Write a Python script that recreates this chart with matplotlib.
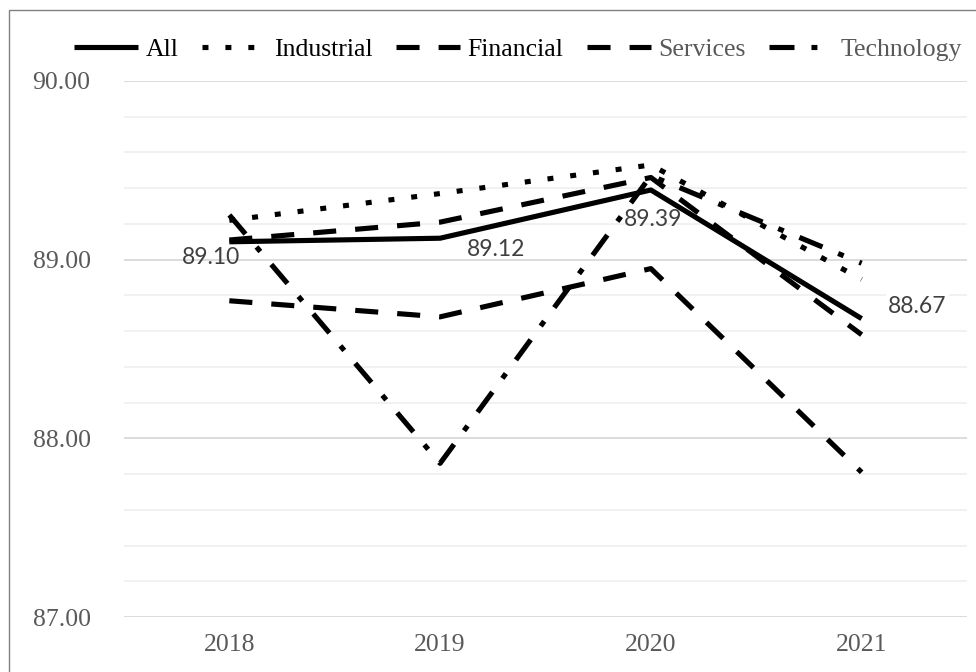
import matplotlib
matplotlib.use("Agg")
import matplotlib.pyplot as plt
import numpy as np
from matplotlib.patches import Rectangle

years = ["2018", "2019", "2020", "2021"]

all_sectors = [89.10, 89.12, 89.39, 88.67]
industrial = [89.22, 89.37, 89.53, 88.89]
financial = [88.77, 88.68, 88.95, 87.81]
services = [89.11, 89.21, 89.46, 88.58]
technology = [89.25, 87.86, 89.47, 88.98]

series_names = ["All", "Industrial", "Financial", "Services", "Technology"]
series_values = [all_sectors, industrial, financial, services, technology]

# dash patterns in points (not scaled by line width)
line_styles = {
    "All": dict(linestyle="-"),
    "Industrial": dict(dashes=(4.3, 12.2)),
    "Financial": dict(dashes=(16.6, 13.7)),
    "Services": dict(dashes=(16.6, 13.7)),
    "Technology": dict(dashes=(18.0, 12.2, 4.3, 12.2)),
}
legend_colors = ["black", "black", "black", "#595959", "#595959"]

# offsets (points) of the value labels on the "All" line
label_offsets = [(-13, -11.5), (40, -8), (1.5, -21), (40, 8.5)]

plt.rcParams["lines.scale_dashes"] = False
serif = "Liberation Serif"

fig = plt.figure(figsize=(9.76, 6.72), dpi=100)
ax = fig.add_axes([0.127, 0.0818, 0.8638, 0.7977])

x = np.arange(len(years))
for name, values in zip(series_names, series_values):
    ax.plot(x, values, color="black", linewidth=3.7, solid_capstyle="butt",
            dash_capstyle="butt", label=name, **line_styles[name])

for xi, val, off in zip(x, all_sectors, label_offsets):
    bbox = dict(boxstyle="square,pad=0.1", fc="white", ec="none") if xi == 3 else None
    ax.annotate(f"{val:.2f}", (xi, val), xytext=off, textcoords="offset points",
                ha="center", va="center", fontsize=16.5, family="Lato",
                color="#404040", bbox=bbox, zorder=5)

ax.set_xlim(-0.5, 3.5)
ax.set_ylim(87, 90)
ax.set_xticks(x)
ax.set_xticklabels(years, family=serif, fontsize=18.5, color="#595959")
ax.set_yticks([87, 88, 89, 90])
ax.set_yticklabels([f"{v:.2f}" for v in [87, 88, 89, 90]],
                   family=serif, fontsize=18.5, color="#595959")
ax.set_yticks(np.arange(87, 90.01, 0.2), minor=True)
ax.tick_params(axis="y", which="both", length=0, pad=24)
ax.tick_params(axis="x", length=0, pad=12)
ax.grid(True, axis="y", which="major", color="#d9d9d9", linewidth=1.3)
ax.grid(True, axis="y", which="minor", color="#f0f0f0", linewidth=1.3)
ax.set_axisbelow(True)
for spine in ax.spines.values():
    spine.set_visible(False)

leg = fig.legend(loc="center", bbox_to_anchor=(0.531, 0.9256), ncol=5,
                 frameon=False, prop={"family": serif, "size": 18.5},
                 handlelength=2.5, handletextpad=0.3, columnspacing=0.9)
for text, col in zip(leg.get_texts(), legend_colors):
    text.set_color(col)

# chart border, open on the right and bottom
fig.patches.append(Rectangle((9 / 976, -0.1), 1.2, 1.1 - 10 / 672, fill=False,
                             edgecolor="#808080", linewidth=1.0,
                             transform=fig.transFigure, clip_on=False))

fig.savefig("out.png", dpi=100)
